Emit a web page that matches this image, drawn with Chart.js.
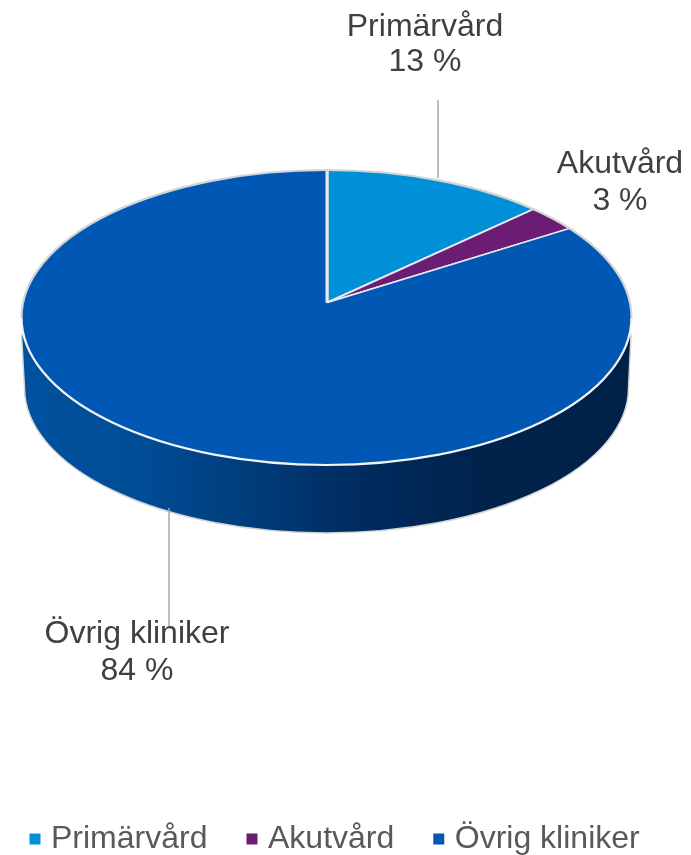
<!DOCTYPE html>
<html><head><meta charset="utf-8">
<style>html,body{margin:0;padding:0;background:#fff}#w{width:691px;height:855px;position:relative}</style>
<script src="https://cdn.jsdelivr.net/npm/chart.js@4"></script></head>
<body><div id="w"><canvas id="c"></canvas></div>
<script>
const categories = ['Primärvård', 'Akutvård', 'Övrig kliniker'];
const shares = [13, 3, 84];
const colors = ['#0090D8', '#6B1D74', '#0058B4'];
const calloutNames = ['Primärvård', 'Akutvård', 'Övrig kliniker'];
const FONT = '"Liberation Sans", Arial, sans-serif';
const FS = 32;

const top3d = {cx: 326.5, cy: 317.5, rx: 305, ry: 147.5, apexX: 327, apexY: 302.6, tilt: 0.482};
const side = {cx: 326.5, cy: 388, rx: 302, ry: 145};

const pie3d = {
  id: 'pie3d',
  afterLayout(chart) {
    const lg = chart.legend, pad = chart.options.plugins.legend.labels.padding;
    lg.top = 839 - FS / 2 - pad;
    lg.left = 35 - pad;
  },
  beforeDatasetsDraw(chart) {
    const ctx = chart.ctx, t = top3d, s = side;
    ctx.save();
    const g = ctx.createLinearGradient(21, 0, 631, 0);
    g.addColorStop(0, '#00529F'); g.addColorStop(0.2, '#004C96'); g.addColorStop(0.35, '#003F7E');
    g.addColorStop(0.55, '#002C60'); g.addColorStop(0.75, '#00234C'); g.addColorStop(1, '#002148');
    ctx.beginPath();
    ctx.moveTo(21.5, 335);
    ctx.lineTo(24.5, s.cy);
    ctx.ellipse(s.cx, s.cy, s.rx, s.ry, 0, Math.PI, 0, true);
    ctx.lineTo(631, 335);
    ctx.closePath();
    ctx.fillStyle = g; ctx.fill();
    ctx.strokeStyle = '#D4D4D4'; ctx.lineWidth = 1.5; ctx.stroke();
    ctx.beginPath();
    ctx.ellipse(t.cx, t.cy, t.rx, t.ry, 0, 0, Math.PI * 2);
    ctx.fillStyle = colors[2]; ctx.fill();
    ctx.clip();
    const a = chart.getDatasetMeta(0).data[0];
    const k = 345 / a.outerRadius;
    ctx.translate(t.apexX, t.apexY);
    ctx.scale(k, k * t.tilt);
    ctx.translate(-a.x, -a.y);
  },
  afterDatasetsDraw(chart) {
    const ctx = chart.ctx, t = top3d;
    ctx.restore();
    ctx.save();
    ctx.lineWidth = 2.2;
    ctx.strokeStyle = '#D4D4D4';
    ctx.beginPath(); ctx.ellipse(t.cx, t.cy, t.rx, t.ry, 0, Math.PI, 0); ctx.stroke();
    ctx.strokeStyle = '#F4F4F4';
    ctx.beginPath(); ctx.ellipse(t.cx, t.cy, t.rx, t.ry, 0, 0, Math.PI); ctx.stroke();
    ctx.strokeStyle = '#A6A6A6'; ctx.lineWidth = 1.5;
    ctx.beginPath(); ctx.moveTo(438, 100); ctx.lineTo(438, 178);
    ctx.moveTo(169, 508); ctx.lineTo(169, 626); ctx.stroke();
    ctx.fillStyle = '#404040'; ctx.textAlign = 'center'; ctx.textBaseline = 'alphabetic';
    ctx.font = FS + 'px ' + FONT;
    const spots = [[425, 36, 71], [620, 173, 210], [137, 643, 680]];
    calloutNames.forEach((n, i) => {
      ctx.fillText(n, spots[i][0], spots[i][1]);
      ctx.fillText(shares[i] + ' %', spots[i][0], spots[i][2]);
    });
    ctx.restore();
  }
};

new Chart(document.getElementById('c'), {
  type: 'pie',
  data: {labels: categories, datasets: [{
    data: shares, backgroundColor: colors,
    borderColor: '#E8E8EE', borderWidth: 3, clip: false
  }]},
  options: {
    responsive: true, maintainAspectRatio: false, animation: false,
    rotation: 0,
    plugins: {
      tooltip: {enabled: false},
      legend: {position: 'bottom', align: 'start', labels: {
        usePointStyle: true, pointStyle: 'rect', boxHeight: 11, boxWidth: 0.01,
        padding: 44.5, color: '#595959', font: {family: FONT, size: FS},
        generateLabels(chart) {
          return Chart.overrides.pie.plugins.legend.labels.generateLabels(chart)
            .map(l => Object.assign(l, {lineWidth: 0, strokeStyle: 'transparent'}));
        }
      }}
    }
  },
  plugins: [pie3d]
});
</script></body></html>
